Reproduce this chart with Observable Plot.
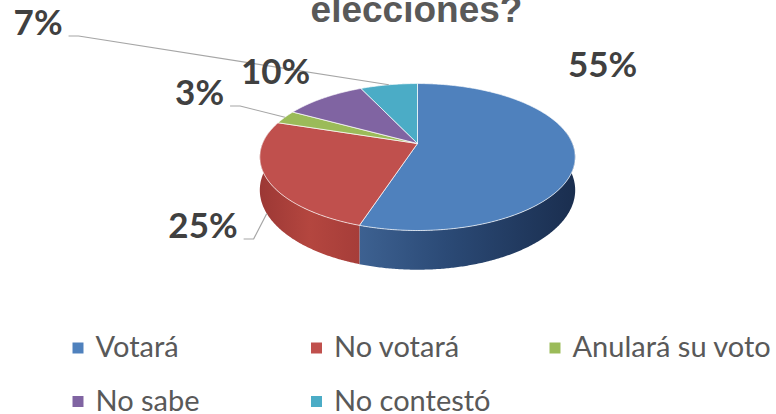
<!DOCTYPE html>
<html><head><meta charset="utf-8">
<script src="https://cdn.jsdelivr.net/npm/d3@7"></script>
<script src="https://cdn.jsdelivr.net/npm/@observablehq/plot@0.6"></script>
<style>body{margin:0;background:#fff;}</style>
</head><body><div id="chart"></div>
<script>
// ---- data ----
const title = "elecciones?";
const categories = ["Votará", "No votará", "Anulará su voto", "No sabe", "No contestó"];
const values = [55, 25, 3, 10, 7];
const labels = ["55%", "25%", "3%", "10%", "7%"];
const palette = ["#4f81bd", "#c0504d", "#9bbb59", "#8064a2", "#4bacc6"];

// ---- layout (styles / geometry parameters) ----
const W = 776, H = 414;
const pie = {cx: 417, cy: 143, sx: 155, sy: 71, k: 0.184, depth: 32};
const labelLayout = [
  {u: 1.194, v: -1.092, leader: false},
  {u: -1.384, v: 1.176, leader: true, level: 1},
  {u: -1.406, v: -0.697, leader: true, level: 0},
  {u: -0.916, v: -1.0, leader: false},
  {u: -2.448, v: -1.683, leader: true, level: 0}
];
const sideFills = ["url(#sideBlue)", "url(#sideRed)", "#7d9a45", "#654e84", "#3a8ea5"];
const legendLayout = {x0: 77.5, colW: 238.5, textDx: 17.5, y0: 347.5, rowH: 53.5, cols: 3};
const labelFont = "Lato, 'Open Sans', sans-serif";

function project(phi, level) {
  const X = Math.sin(phi), Y = -Math.cos(phi), w = 1 - pie.k * Y;
  return [pie.cx + pie.sx * X / w, pie.cy + pie.sy * Y / w + level * pie.depth / w];
}

const slices = d3.pie().sort(null).value(d => d)(values);
const step = Math.PI / 360;
function arcPts(a0, a1, level) {
  const n = Math.max(2, Math.ceil(Math.abs(a1 - a0) / step));
  return d3.range(n + 1).map(i => project(a0 + (a1 - a0) * i / n, level));
}

// top faces
const topRows = [];
slices.forEach((s, i) => {
  const pts = [[pie.cx, pie.cy], ...arcPts(s.startAngle, s.endAngle, 0), [pie.cx, pie.cy]];
  pts.forEach(([x, y]) => topRows.push({id: "t" + i, x, y, fill: palette[i]}));
});

// side walls (front part only)
const lo = Math.PI * 80 / 180, hi = Math.PI * 280 / 180;
const sideRows = [];
const sideExtent = {};
slices.forEach((s, i) => {
  const a0 = Math.max(s.startAngle, lo), a1 = Math.min(s.endAngle, hi);
  if (a1 <= a0) return;
  const top = arcPts(a0, a1, 0), bot = arcPts(a0, a1, 1).reverse();
  const pts = [...top, ...bot];
  sideExtent[i] = d3.extent(pts, p => p[0]);
  pts.forEach(([x, y]) => sideRows.push({id: "s" + i, x, y, fill: sideFills[i]}));
});

// text width helper
const ctx = document.createElement("canvas").getContext("2d");
function textW(str, font) { ctx.font = font; return ctx.measureText(str).width; }

// labels + leaders
const labelRows = [], leaderRows = [];
slices.forEach((s, i) => {
  const L = labelLayout[i];
  const x = pie.cx + L.u * pie.sx, y = pie.cy + L.v * pie.sy;
  labelRows.push({x, y, text: labels[i]});
  if (L.leader) {
    const w = textW(labels[i], `bold 35px ${labelFont}`);
    const mid = (s.startAngle + s.endAngle) / 2;
    const [ax, ay] = project(mid, L.level);
    const sx = x + w / 2 + 6, sy = y + 12;
    [[sx, sy], [sx + 10, sy], [ax, ay]].forEach(([px, py]) => leaderRows.push({id: "l" + i, x: px, y: py}));
  }
});

// legend
const legendRows = categories.map((c, i) => {
  const col = i % legendLayout.cols, row = Math.floor(i / legendLayout.cols);
  return {name: c, fill: palette[i],
    x: legendLayout.x0 + col * legendLayout.colW,
    y: legendLayout.y0 + row * legendLayout.rowH};
});

const chart = Plot.plot({
  width: W, height: H, margin: 0,
  x: {domain: [0, W], range: [0, W], axis: null},
  y: {domain: [0, H], range: [0, H], axis: null},
  color: {type: "identity"},
  style: {background: "white", fontFamily: labelFont},
  marks: [
    Plot.line(sideRows, {x: "x", y: "y", z: "id", fill: "fill", stroke: "none"}),
    Plot.line(topRows, {x: "x", y: "y", z: "id", fill: "fill", stroke: "white", strokeOpacity: 0.7, strokeWidth: 1}),
    Plot.line(leaderRows, {x: "x", y: "y", z: "id", stroke: "#a6a6a6", strokeWidth: 1.2, strokeLinecap: "butt"}),
    Plot.text(labelRows, {x: "x", y: "y", text: "text", fontSize: 35, fontWeight: "bold", fill: "#404040", fontFamily: labelFont}),
    Plot.text([title], {x: () => W / 2 + 28, y: () => 10, text: d => d, fontSize: 37, fontWeight: "bold", fill: "#595959", fontFamily: "'Liberation Sans', Arial, sans-serif"}),
    Plot.dot(legendRows, {x: "x", y: "y", fill: "fill", symbol: "square", r: 6.2, stroke: "none"}),
    Plot.text(legendRows, {x: d => d.x + legendLayout.textDx, y: "y", text: "name", textAnchor: "start", fontSize: 29, fill: "#595959", fontFamily: labelFont})
  ]
});

// gradients for the side walls
const svg = d3.select(chart);
const defs = svg.insert("defs", ":first-child");
function grad(id, ext, stops) {
  const g = defs.append("linearGradient").attr("id", id).attr("gradientUnits", "userSpaceOnUse")
    .attr("x1", ext[0]).attr("x2", ext[1]).attr("y1", 0).attr("y2", 0);
  stops.forEach(([o, c]) => g.append("stop").attr("offset", o).attr("stop-color", c));
}
grad("sideBlue", sideExtent[0] || [360, 575], [[0, "#3d6191"], [0.4, "#2b4a76"], [1, "#1a2e4f"]]);
grad("sideRed", sideExtent[1] || [258, 360], [[0, "#9c3835"], [0.5, "#b4463f"], [1, "#a63d39"]]);

document.getElementById("chart").appendChild(chart);
</script>
</body></html>
